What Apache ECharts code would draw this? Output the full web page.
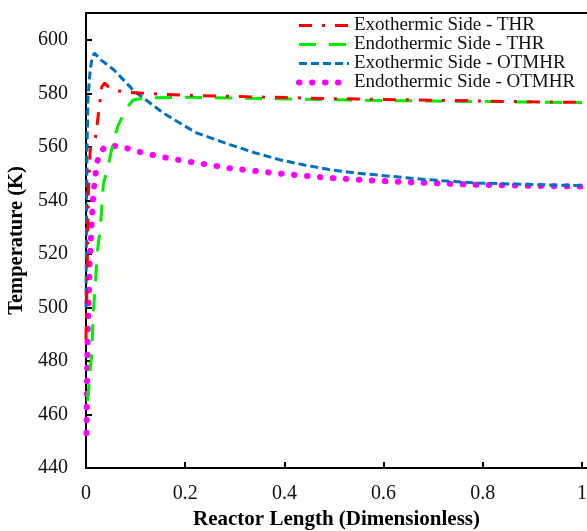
<!DOCTYPE html>
<html>
<head>
<meta charset="utf-8">
<script src="https://cdn.jsdelivr.net/npm/echarts@6/dist/echarts.min.js"></script>
<style>html,body{margin:0;padding:0;background:#fff;overflow:hidden}#c{width:587px;height:531px}</style>
</head>
<body>
<div id="c"></div>
<script>
var seriesNames = ['Exothermic Side - THR','Endothermic Side - THR','Exothermic Side - OTMHR','Endothermic Side - OTMHR'];
var xTicks = [0, 0.2, 0.4, 0.6, 0.8, 1];
var yTicks = [440, 460, 480, 500, 520, 540, 560, 580, 600];

var exoThrX = [0,0.003,0.005,0.009,0.014,0.019,0.022,0.026,0.032,0.0375,0.045,0.06,0.08,0.1,0.15,0.2,0.3,0.4,0.5,0.6,0.7,0.8,0.9,1];
var exoThrY = [488,520,545,560,561.5,563.4,567.6,573.8,582.5,583.8,582.5,581,580.5,580.2,579.7,579.3,578.8,578.4,578,577.7,577.4,577.1,576.8,576.6];

var endoThrX = [0.003,0.007,0.012,0.014,0.017,0.02,0.023,0.029,0.032,0.035,0.045,0.055,0.065,0.08,0.095,0.12,0.2,0.3,0.4,0.5,0.6,0.7,0.8,0.9,1];
var endoThrY = [465,473,484,495,504,512,521,530,538,546,553,562,568,574,577.5,578.3,578.5,578.2,577.9,577.6,577.3,577.1,576.9,576.7,576.5];

var exoOtmX = [0,0.001,0.002,0.004,0.008,0.012,0.017,0.03,0.056,0.096,0.156,0.19,0.223,0.29,0.34,0.39,0.44,0.49,0.54,0.59,0.66,0.72,0.79,0.9,1];
var exoOtmY = [500,530,560,578,588,593,595,592.5,588.8,581,572.6,568.8,565.2,560.8,557.8,555.2,553.2,551.5,550.3,549.4,548.2,547.3,546.5,545.9,545.5];

var endoOtmX = [0.001,0.002,0.003,0.004,0.006,0.007,0.009,0.012,0.015,0.019,0.022,0.029,0.04,0.052,0.08,0.106,0.133,0.16,0.19,0.29,0.39,0.49,0.59,0.7,0.79,0.9,1];
var endoOtmY = [453,470,485,494,505,515,523,533,543,549,554,558,560.3,560.5,559.6,558.2,557,556,555,552,550,548.4,547.3,546.4,545.8,545.4,545.2];

function pairs(xs, ys){ return xs.map(function(x,i){ return [x, ys[i]]; }); }

var font = 'Liberation Serif, Times New Roman, serif';
var styles = [
  {color: '#ff0000', width: 3, type: [13, 10, 3, 10]},
  {color: '#00ee00', width: 3, type: [17, 13]},
  {color: '#0070c0', width: 3, type: [8, 4]},
  {color: '#ff00ff', width: 6, type: [0.5, 12.5], cap: 'round'}
];
var chart = echarts.init(document.getElementById('c'), null, {renderer:'canvas'});
chart.setOption({
  animation: false,
  backgroundColor: '#fff',
  textStyle: {fontFamily: font},
  grid: {left: 86, right: 0, top: 13, bottom: 63, containLabel: false, outerBoundsMode: 'none'},
  legend: {
    orient: 'vertical', left: 291, top: 11,
    itemWidth: 50, itemHeight: 14, itemGap: 0,
    itemStyle: {opacity: 0},
    textStyle: {fontFamily: font, fontSize: 19, color: '#111'},
    data: seriesNames.map(function(n, i){ return {name: n, lineStyle: styles[i]}; })
  },
  xAxis: [{
    type: 'value', min: 0, max: 1.01,
    name: 'Reactor Length (Dimensionless)', nameLocation: 'middle', nameGap: 40,
    nameTextStyle: {fontFamily: font, fontSize: 21, fontWeight: 'bold', color: '#000'},
    axisLine: {lineStyle: {color: '#000', width: 2}},
    axisTick: {inside: true, length: 6, customValues: xTicks, lineStyle: {color: '#000', width: 2}},
    axisLabel: {fontFamily: font, fontSize: 20, color: '#111', margin: 16, customValues: xTicks},
    splitLine: {show: false}
  },{
    type: 'value', position: 'top', min: 0, max: 1.01,
    axisLine: {show: true, lineStyle: {color: '#000', width: 2}},
    axisTick: {show: false}, axisLabel: {show: false}, splitLine: {show: false}
  }],
  yAxis: {
    type: 'value', min: 440, max: 610,
    name: 'Temperature (K)', nameLocation: 'middle', nameGap: 55,
    nameTextStyle: {fontFamily: font, fontSize: 20.5, fontWeight: 'bold', color: '#000'},
    axisLine: {show: true, lineStyle: {color: '#000', width: 2}},
    axisTick: {inside: true, length: 6, customValues: yTicks, lineStyle: {color: '#000', width: 2}},
    axisLabel: {fontFamily: font, fontSize: 20, color: '#111', margin: 18, customValues: yTicks},
    splitLine: {show: false}
  },
  series: [
    {name: seriesNames[0], type: 'line', data: pairs(exoThrX, exoThrY), showSymbol: false, symbol: 'none', z: 4,
     lineStyle: styles[0], itemStyle: {color: styles[0].color}},
    {name: seriesNames[1], type: 'line', data: pairs(endoThrX, endoThrY), showSymbol: false, symbol: 'none', z: 3,
     lineStyle: styles[1], itemStyle: {color: styles[1].color}},
    {name: seriesNames[2], type: 'line', data: pairs(exoOtmX, exoOtmY), showSymbol: false, symbol: 'none', z: 2,
     lineStyle: styles[2], itemStyle: {color: styles[2].color}},
    {name: seriesNames[3], type: 'line', data: pairs(endoOtmX, endoOtmY), showSymbol: false, symbol: 'none', z: 1,
     lineStyle: styles[3], itemStyle: {color: styles[3].color}}
  ]
});
</script>
</body>
</html>
